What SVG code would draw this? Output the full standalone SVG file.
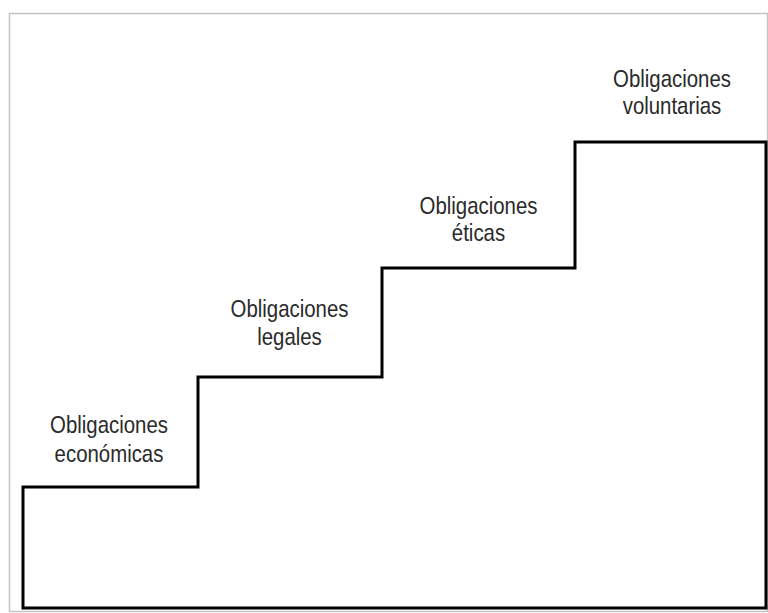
<svg xmlns="http://www.w3.org/2000/svg" width="768" height="613" viewBox="0 0 768 613">
<style>
.lbl{font-family:"Liberation Sans",Arial,sans-serif;font-size:24px;fill:#2a2a2a;text-anchor:middle}
.stair{fill:none;stroke:#000;stroke-width:3;stroke-linejoin:miter}
</style>
<rect x="0" y="0" width="768" height="613" fill="#fff"/>
<rect x="9.5" y="13.5" width="758" height="598" fill="none" stroke="#c4c4c4" stroke-width="1.5"/>
<g id="connectors">
<path class="stair" d="M23,487 L198,487 L198,377 L382,377 L382,268 L575,268 L575,142 L766,142 L766,608 L23,608 Z"/>
</g>
<g id="economicas" transform="translate(109,0) scale(0.85,1)"><text class="lbl" x="0" y="433">Obligaciones</text><text class="lbl" x="0" y="462">económicas</text></g>
<g id="legales" transform="translate(289.5,0) scale(0.85,1)"><text class="lbl" x="0" y="317">Obligaciones</text><text class="lbl" x="0" y="345">legales</text></g>
<g id="eticas" transform="translate(478.5,0) scale(0.85,1)"><text class="lbl" x="0" y="214">Obligaciones</text><text class="lbl" x="0" y="241">éticas</text></g>
<g id="voluntarias" transform="translate(672,0) scale(0.85,1)"><text class="lbl" x="0" y="87">Obligaciones</text><text class="lbl" x="0" y="114">voluntarias</text></g>
</svg>
